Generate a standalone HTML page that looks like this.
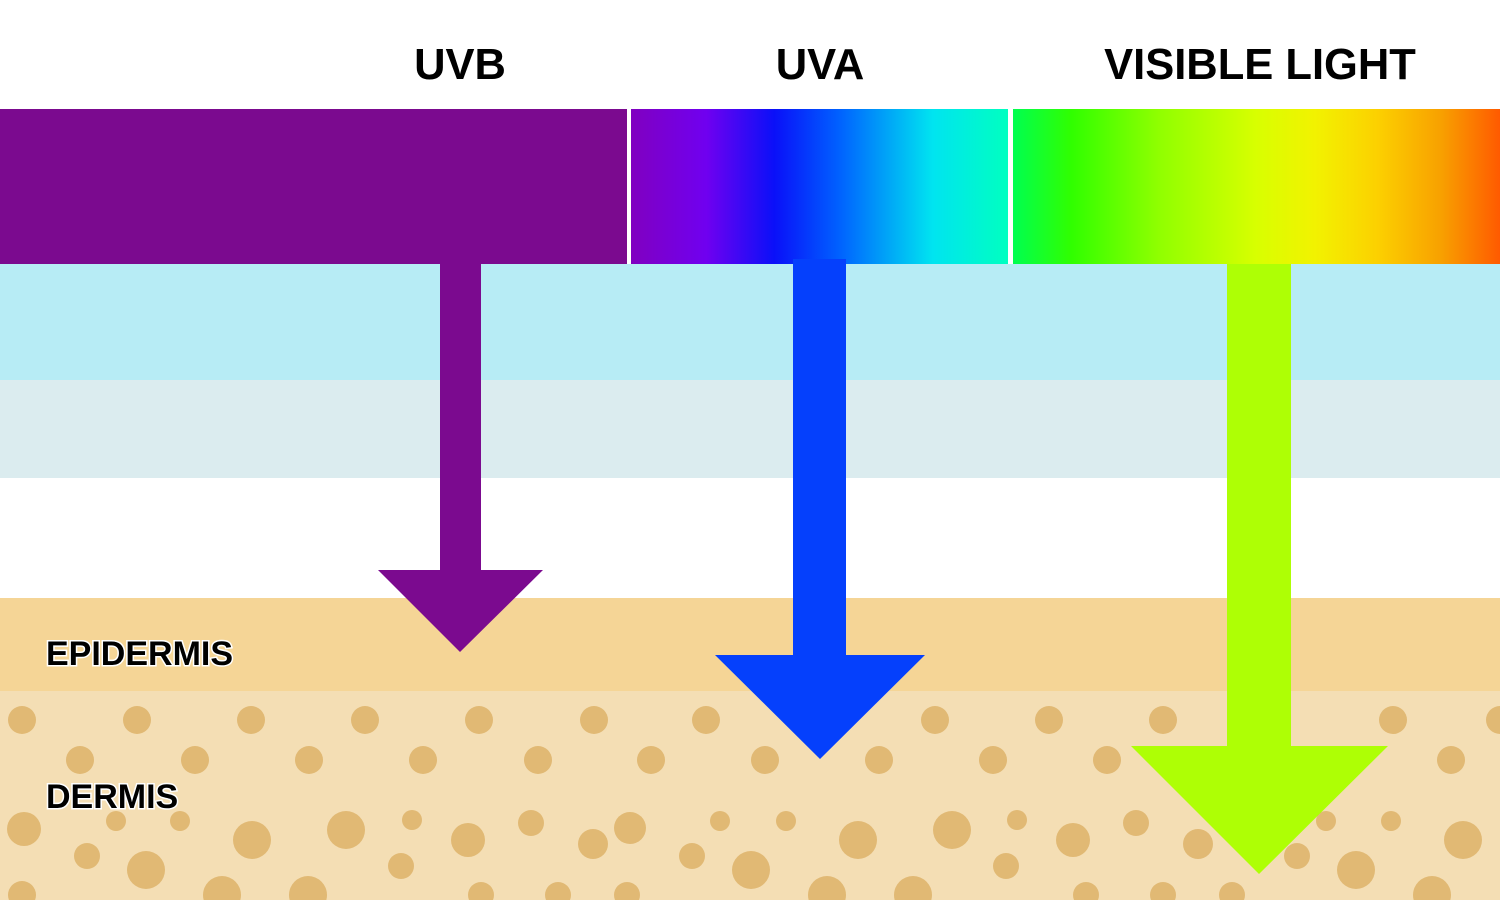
<!DOCTYPE html>
<html><head><meta charset="utf-8"><style>
html,body{margin:0;padding:0;background:#fff}
svg{display:block}
text{font-family:"Liberation Sans",sans-serif;font-weight:bold}
</style></head><body>
<svg width="1500" height="900" viewBox="0 0 1500 900" xmlns="http://www.w3.org/2000/svg">
<defs>
<linearGradient id="uva" x1="0" x2="1" y1="0" y2="0">
<stop offset="0" stop-color="#8000c0"/><stop offset="0.2" stop-color="#7000f0"/><stop offset="0.38" stop-color="#0a10f8"/><stop offset="0.55" stop-color="#0060ff"/><stop offset="0.8" stop-color="#00e4f0"/><stop offset="1" stop-color="#00ffc0"/>
</linearGradient>
<linearGradient id="vis" x1="0" x2="1" y1="0" y2="0">
<stop offset="0" stop-color="#00ff50"/><stop offset="0.12" stop-color="#30ff00"/><stop offset="0.3" stop-color="#90ff00"/><stop offset="0.5" stop-color="#d8ff00"/><stop offset="0.62" stop-color="#f2f200"/><stop offset="0.75" stop-color="#fcd000"/><stop offset="0.88" stop-color="#f8a000"/><stop offset="1" stop-color="#ff5a00"/>
</linearGradient>
</defs>
<rect x="0" y="264" width="1500" height="116" fill="#b7ecf5"/>
<rect x="0" y="380" width="1500" height="98" fill="#dbecef"/>
<rect x="0" y="598" width="1500" height="93" fill="#f5d596"/>
<rect x="0" y="691" width="1500" height="209" fill="#f4deb4"/>
<g fill="#e1b974">
<circle cx="22" cy="720" r="14"/><circle cx="137" cy="720" r="14"/><circle cx="251" cy="720" r="14"/><circle cx="365" cy="720" r="14"/><circle cx="479" cy="720" r="14"/><circle cx="594" cy="720" r="14"/><circle cx="706" cy="720" r="14"/><circle cx="935" cy="720" r="14"/><circle cx="1049" cy="720" r="14"/><circle cx="1163" cy="720" r="14"/><circle cx="1393" cy="720" r="14"/><circle cx="1500" cy="720" r="14"/>
<circle cx="80" cy="760" r="14"/><circle cx="195" cy="760" r="14"/><circle cx="309" cy="760" r="14"/><circle cx="423" cy="760" r="14"/><circle cx="538" cy="760" r="14"/><circle cx="651" cy="760" r="14"/><circle cx="765" cy="760" r="14"/><circle cx="879" cy="760" r="14"/><circle cx="993" cy="760" r="14"/><circle cx="1107" cy="760" r="14"/><circle cx="1451" cy="760" r="14"/>
<circle cx="24" cy="829" r="17"/><circle cx="116" cy="821" r="10"/><circle cx="180" cy="821" r="10"/><circle cx="252" cy="840" r="19"/><circle cx="346" cy="830" r="19"/><circle cx="412" cy="820" r="10"/><circle cx="468" cy="840" r="17"/><circle cx="531" cy="823" r="13"/><circle cx="593" cy="844" r="15"/><circle cx="630" cy="828" r="16"/><circle cx="720" cy="821" r="10"/><circle cx="786" cy="821" r="10"/><circle cx="858" cy="840" r="19"/><circle cx="952" cy="830" r="19"/><circle cx="1017" cy="820" r="10"/><circle cx="1073" cy="840" r="17"/><circle cx="1136" cy="823" r="13"/><circle cx="1198" cy="844" r="15"/><circle cx="1326" cy="821" r="10"/><circle cx="1391" cy="821" r="10"/><circle cx="1463" cy="840" r="19"/>
<circle cx="87" cy="856" r="13"/><circle cx="146" cy="870" r="19"/><circle cx="401" cy="866" r="13"/><circle cx="692" cy="856" r="13"/><circle cx="751" cy="870" r="19"/><circle cx="1006" cy="866" r="13"/><circle cx="1297" cy="856" r="13"/><circle cx="1356" cy="870" r="19"/>
<circle cx="22" cy="895" r="14"/><circle cx="222" cy="895" r="19"/><circle cx="308" cy="895" r="19"/><circle cx="481" cy="895" r="13"/><circle cx="558" cy="895" r="13"/><circle cx="627" cy="895" r="13"/><circle cx="827" cy="895" r="19"/><circle cx="913" cy="895" r="19"/><circle cx="1086" cy="895" r="13"/><circle cx="1163" cy="895" r="13"/><circle cx="1232" cy="895" r="13"/><circle cx="1432" cy="895" r="19"/>
</g>
<rect x="0" y="109" width="627" height="155" fill="#7b0a8f"/>
<rect x="631" y="109" width="377" height="155" fill="url(#uva)"/>
<rect x="1013" y="109" width="487" height="155" fill="url(#vis)"/>
<polygon points="440,264 481,264 481,570 543,570 460,652 378,570 440,570" fill="#7b0a8f"/>
<polygon points="793,259 846,259 846,655 925,655 820,759 715,655 793,655" fill="#0540fc"/>
<polygon points="1227,264 1291,264 1291,746 1388,746 1259,874 1131,746 1227,746" fill="#aeff05"/>
<text x="460" y="79" font-size="43.5" text-anchor="middle">UVB</text>
<text x="820" y="79" font-size="43.5" text-anchor="middle">UVA</text>
<text x="1260" y="79" font-size="43.5" text-anchor="middle">VISIBLE LIGHT</text>
<text x="46" y="665" font-size="34" stroke="#fff" stroke-width="3" paint-order="stroke">EPIDERMIS</text>
<text x="46" y="808" font-size="34" stroke="#fff" stroke-width="3" paint-order="stroke">DERMIS</text>
</svg>
</body></html>
